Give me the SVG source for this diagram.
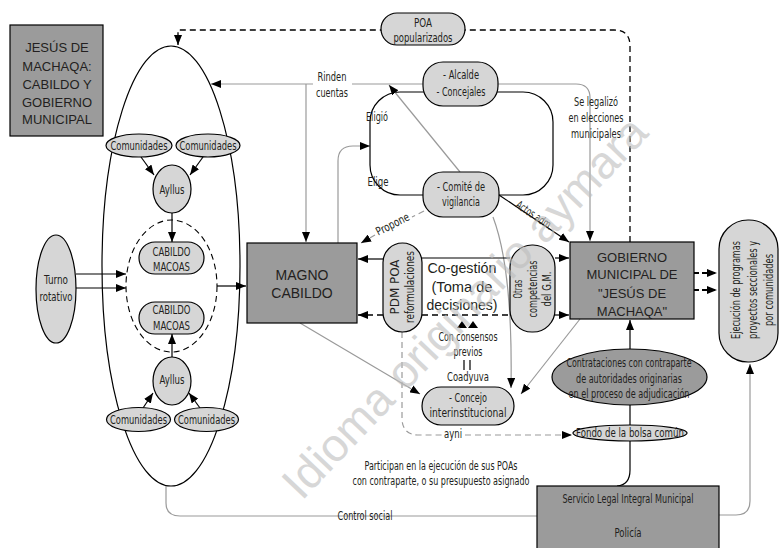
<svg xmlns="http://www.w3.org/2000/svg" width="780" height="548" viewBox="0 0 780 548">
<defs>
<marker id="ah" viewBox="0 0 10 8" refX="10" refY="4" markerWidth="10" markerHeight="8" markerUnits="userSpaceOnUse" orient="auto"><path d="M0,0 L10,4 L0,8 z" fill="#000"/></marker>
<style>
text{fill:#231f20;text-anchor:middle}
.n{font-family:"Liberation Sans Narrow","DejaVu Sans Condensed","Liberation Sans",sans-serif;font-size:11.5px}
.r{font-family:"Liberation Sans","DejaVu Sans",sans-serif}
.pill{fill:#d6d6d6;stroke:#000;stroke-width:1.2}
.box{fill:#9b9b9b;stroke:#000;stroke-width:1.2}
.k{fill:none;stroke:#000;stroke-width:1.2}
.g{fill:none;stroke:#9a9a9a;stroke-width:1.2}
.gd{fill:none;stroke:#9a9a9a;stroke-width:1.2;stroke-dasharray:6 4}
.kd{fill:none;stroke:#000;stroke-width:1.3;stroke-dasharray:6 4}
.kd2{fill:none;stroke:#000;stroke-width:2;stroke-dasharray:5 3}
</style>
</defs>
<rect x="0" y="0" width="780" height="548" fill="#fff"/>

<g id="connectors">
  <path class="kd" d="M630 242 V46 Q630 30 614 30 H178 V45" marker-end="url(#ah)"/>
  <path class="g" d="M352 84 H576 Q590 84 590 98 V241" marker-end="url(#ah)"/>
  <path class="g" d="M313 84 H211" marker-end="url(#ah)"/>
  <path class="g" d="M306 84 V242" marker-end="url(#ah)"/>
  <path class="g" d="M338 243 V161 Q338 146 353 146 H370" marker-end="url(#ah)"/>
  <rect class="k" x="370" y="92" width="183" height="103" rx="30"/>
  <path class="g" d="M460 172 L389 85" marker-end="url(#ah)"/>
  <path class="g" d="M493 217 Q513 270 511 388" marker-end="url(#ah)"/>
  <path class="g" d="M580 319 L521 394" marker-end="url(#ah)"/>
  <path class="g" d="M300 323 L420 394" marker-end="url(#ah)"/>
  <path class="g" d="M166 486 V503 Q166 516 180 516 H537"/>
  <path class="g" d="M719 515 H736 Q750 515 750 501 V364" marker-end="url(#ah)"/>
  <path class="k" d="M630 349 V320" marker-end="url(#ah)"/>
  <path class="k" d="M630 405 V426 M630 440 V470 Q630 485 617 486"/>
  <path class="gd" d="M402 332 V418 Q402 435 419 435 H442"/>
  <path class="gd" d="M465 435 H572" marker-end="url(#ah)"/>
  <path class="k" d="M422 258 H510"/>
  <path class="kd" d="M422 315 H510"/>
  <path class="k" d="M383 259 H358" marker-end="url(#ah)"/>
  <path class="kd" d="M383 315 H358" marker-end="url(#ah)"/>
  <path class="k" d="M555 258 H569" marker-end="url(#ah)"/>
  <path class="k" d="M555 315 H569" marker-end="url(#ah)"/>
  <polygon points="457,328 462,321 467,328" fill="#000"/>
  <polygon points="468,328 473,321 478,328" fill="#000"/>
  <path class="k" d="M464 360 V370 M470 360 V370"/>
  <path class="k" d="M76 274 H126" marker-end="url(#ah)"/>
  <path class="k" d="M76 288 H126" marker-end="url(#ah)"/>
  <path class="k" d="M217 286 H246" marker-end="url(#ah)"/>
  <path class="k" d="M172 213 V242" marker-end="url(#ah)"/>
  <path class="k" d="M172 357 V334" marker-end="url(#ah)"/>
  <path class="k" d="M141 157 L154 175" marker-end="url(#ah)"/>
  <path class="k" d="M203 157 L190 175" marker-end="url(#ah)"/>
  <path class="k" d="M143 408 L153 393" marker-end="url(#ah)"/>
  <path class="k" d="M200 408 L189 393" marker-end="url(#ah)"/>
  <path class="gd" d="M424 211 L412 217"/>
  <path class="gd" d="M375 235 L361 243" marker-end="url(#ah)"/>
  <path class="k" d="M499 195 L569 242" marker-end="url(#ah)"/>
  <path class="kd2" d="M694 273 H717" marker-end="url(#ah)"/>
  <path class="kd2" d="M694 290 H717" marker-end="url(#ah)"/>
  <text class="n" x="332" y="81" textLength="29" lengthAdjust="spacingAndGlyphs">Rinden</text>
  <text class="n" x="332" y="97" textLength="32" lengthAdjust="spacingAndGlyphs">cuentas</text>
  <text class="n" x="377" y="121" font-size="10.5" textLength="22" lengthAdjust="spacingAndGlyphs">Eligió</text>
  <text class="n" x="378" y="186" font-size="10.5" textLength="21" lengthAdjust="spacingAndGlyphs">Elige</text>
  <text class="n" x="596" y="106" textLength="44" lengthAdjust="spacingAndGlyphs">Se legalizó</text>
  <text class="n" x="596" y="122" textLength="55" lengthAdjust="spacingAndGlyphs">en elecciones</text>
  <text class="n" x="596" y="138" textLength="50" lengthAdjust="spacingAndGlyphs">municipales</text>
  <text class="n" x="393" y="228" font-size="10.5" transform="rotate(-27 393 225)" textLength="36" lengthAdjust="spacingAndGlyphs">Propone</text>
  <text class="n" x="534" y="219" font-size="10.5" transform="rotate(34 534 216)" textLength="42" lengthAdjust="spacingAndGlyphs">Actos adm.</text>
  <text class="n" x="468" y="341" font-size="12" textLength="59" lengthAdjust="spacingAndGlyphs">Con consensos</text>
  <text class="n" x="468" y="356" font-size="12" textLength="29" lengthAdjust="spacingAndGlyphs">previos</text>
  <text class="n" x="468" y="381" font-size="12" textLength="42" lengthAdjust="spacingAndGlyphs">Coadyuva</text>
  <text class="n" x="453" y="438" font-size="11" textLength="18" lengthAdjust="spacingAndGlyphs">ayni</text>
  <text class="n" x="441" y="470" font-size="12" textLength="153" lengthAdjust="spacingAndGlyphs">Participan en la ejecución de sus POAs</text>
  <text class="n" x="441" y="485" font-size="12" textLength="177" lengthAdjust="spacingAndGlyphs">con contraparte, o su presupuesto asignado</text>
  <text class="n" x="365" y="520" font-size="12" textLength="55" lengthAdjust="spacingAndGlyphs">Control social</text>
</g>

<g id="title">
  <rect class="box" x="10" y="25" width="93" height="111"/>
  <text class="r" font-size="13" x="57" y="52">JESÚS DE</text>
  <text class="r" font-size="13" x="57" y="71">MACHAQA:</text>
  <text class="r" font-size="13" x="57" y="89">CABILDO Y</text>
  <text class="r" font-size="13" x="57" y="107">GOBIERNO</text>
  <text class="r" font-size="13" x="57" y="124">MUNICIPAL</text>
</g>
<g id="cabildo-comunal"><ellipse class="k" cx="171" cy="266" rx="69" ry="220"/></g>
<g id="comunidades-1"><ellipse class="pill" cx="139" cy="145.5" rx="33" ry="11.5"/><text class="n" x="139" y="149.5" textLength="57" lengthAdjust="spacingAndGlyphs">Comunidades</text></g>
<g id="comunidades-2"><ellipse class="pill" cx="208" cy="145.5" rx="32" ry="11.5"/><text class="n" x="208" y="149.5" textLength="57" lengthAdjust="spacingAndGlyphs">Comunidades</text></g>
<g id="ayllus-1"><ellipse class="pill" cx="172" cy="189" rx="19" ry="24"/><text class="n" x="172" y="194" textLength="25" lengthAdjust="spacingAndGlyphs">Ayllus</text></g>
<g id="macoas-circle"><ellipse fill="none" stroke="#000" stroke-width="1.1" stroke-dasharray="6 4" cx="171.5" cy="286" rx="45.5" ry="66"/></g>
<g id="macoas-1"><rect class="pill" x="139" y="242" width="65" height="32" rx="16"/><text class="n" font-size="12.5" x="171.5" y="256" textLength="38" lengthAdjust="spacingAndGlyphs">CABILDO</text><text class="n" font-size="12.5" x="171.5" y="271" textLength="37" lengthAdjust="spacingAndGlyphs">MACOAS</text></g>
<g id="macoas-2"><rect class="pill" x="139" y="302" width="65" height="32" rx="16"/><text class="n" font-size="12.5" x="171.5" y="314" textLength="38" lengthAdjust="spacingAndGlyphs">CABILDO</text><text class="n" font-size="12.5" x="171.5" y="330" textLength="37" lengthAdjust="spacingAndGlyphs">MACOAS</text></g>
<g id="ayllus-2"><ellipse class="pill" cx="172" cy="381" rx="19" ry="24"/><text class="n" x="172" y="384" textLength="25" lengthAdjust="spacingAndGlyphs">Ayllus</text></g>
<g id="comunidades-3"><ellipse class="pill" cx="138.5" cy="419.5" rx="32" ry="12"/><text class="n" x="138.5" y="423.5" textLength="57" lengthAdjust="spacingAndGlyphs">Comunidades</text></g>
<g id="comunidades-4"><ellipse class="pill" cx="206.5" cy="419.5" rx="32" ry="12"/><text class="n" x="206.5" y="423.5" textLength="57" lengthAdjust="spacingAndGlyphs">Comunidades</text></g>
<g id="turno"><ellipse class="pill" cx="56" cy="289" rx="20" ry="54"/><text class="n" x="56" y="284" textLength="24" lengthAdjust="spacingAndGlyphs">Turno</text><text class="n" x="56" y="301" textLength="33" lengthAdjust="spacingAndGlyphs">rotativo</text></g>
<g id="magno-cabildo"><rect class="box" x="247" y="243" width="110" height="80"/><text class="r" font-size="14" x="302" y="280">MAGNO</text><text class="r" font-size="14" x="302" y="298">CABILDO</text></g>
<g id="poa"><rect class="pill" x="381" y="13" width="84" height="32" rx="16"/><text class="n" font-size="12" x="423" y="27" textLength="18" lengthAdjust="spacingAndGlyphs">POA</text><text class="n" font-size="12" x="423" y="42" textLength="59" lengthAdjust="spacingAndGlyphs">popularizados</text></g>
<g id="alcalde"><rect class="pill" x="423" y="62" width="75" height="44" rx="20"/><text class="n" font-size="12" x="461" y="79" textLength="36" lengthAdjust="spacingAndGlyphs">- Alcalde</text><text class="n" font-size="12" x="461" y="96" textLength="49" lengthAdjust="spacingAndGlyphs">- Concejales</text></g>
<g id="comite"><rect class="pill" x="423" y="172" width="76" height="45" rx="20"/><text class="n" font-size="12" x="461" y="191" textLength="48" lengthAdjust="spacingAndGlyphs">- Comité de</text><text class="n" font-size="12" x="461" y="206" textLength="38" lengthAdjust="spacingAndGlyphs">vigilancia</text></g>
<g id="pdm"><rect class="pill" x="383" y="243" width="39" height="89" rx="19.5"/>
  <text class="n" font-size="11" transform="translate(399 287) rotate(-90)" textLength="55" lengthAdjust="spacingAndGlyphs">PDM  POA</text>
  <text class="n" font-size="11" transform="translate(414 287) rotate(-90)" textLength="72" lengthAdjust="spacingAndGlyphs">reformulaciones</text></g>
<g id="cogestion"><text class="r" font-size="15" x="462" y="273" textLength="69" lengthAdjust="spacingAndGlyphs">Co-gestión</text><text class="r" font-size="15" x="462" y="292" textLength="61" lengthAdjust="spacingAndGlyphs">(Toma de</text><text class="r" font-size="15" x="462" y="310" textLength="71" lengthAdjust="spacingAndGlyphs">decisiones)</text></g>
<g id="otras"><rect class="pill" x="510" y="245" width="45" height="87" rx="22"/>
  <text class="n" font-size="11" transform="translate(521.5 289) rotate(-90)" textLength="19" lengthAdjust="spacingAndGlyphs">Otras</text>
  <text class="n" font-size="11" transform="translate(536.5 289) rotate(-90)" textLength="57" lengthAdjust="spacingAndGlyphs">competencias</text>
  <text class="n" font-size="11" transform="translate(551 289) rotate(-90)" textLength="35" lengthAdjust="spacingAndGlyphs">del G.M.</text></g>
<g id="gobierno"><rect class="box" x="570" y="242" width="124" height="77"/>
  <text class="r" font-size="13" x="632" y="261.5">GOBIERNO</text>
  <text class="r" font-size="13" x="632" y="279">MUNICIPAL DE</text>
  <text class="r" font-size="13" x="632" y="298">"JESÚS DE</text>
  <text class="r" font-size="13" x="632" y="315.5">MACHAQA"</text></g>
<g id="ejecucion"><rect class="pill" x="719" y="220" width="59" height="142" rx="29"/>
  <text class="n" font-size="12" transform="translate(740 290) rotate(-90)" textLength="98" lengthAdjust="spacingAndGlyphs">Ejecución de programas</text>
  <text class="n" font-size="12" transform="translate(757 290) rotate(-90)" textLength="98" lengthAdjust="spacingAndGlyphs">proyectos seccionales y</text>
  <text class="n" font-size="12" transform="translate(773 290) rotate(-90)" textLength="72" lengthAdjust="spacingAndGlyphs">por comunidades</text></g>
<g id="concejo"><rect class="pill" x="422" y="387" width="92" height="38" rx="19"/><text class="n" font-size="12" x="468" y="402" textLength="38" lengthAdjust="spacingAndGlyphs">- Concejo</text><text class="n" font-size="12" x="468" y="417" textLength="77" lengthAdjust="spacingAndGlyphs">interinstitucional</text></g>
<g id="contrataciones"><ellipse class="box" cx="629.5" cy="377" rx="77.5" ry="28"/>
  <text class="n" font-size="12" x="629" y="367" textLength="125" lengthAdjust="spacingAndGlyphs">Contrataciones con contraparte</text>
  <text class="n" font-size="12" x="629" y="383" textLength="106" lengthAdjust="spacingAndGlyphs">de autoridades originarias</text>
  <text class="n" font-size="12" x="629" y="398" textLength="121" lengthAdjust="spacingAndGlyphs">en el proceso de adjudicación</text></g>
<g id="fondo"><ellipse class="pill" cx="630" cy="433" rx="57" ry="8"/><text class="n" font-size="12" x="630" y="437" textLength="108" lengthAdjust="spacingAndGlyphs">Fondo de la bolsa común</text></g>
<g id="servicio"><rect class="box" x="537" y="486" width="182" height="70"/>
  <text class="n" font-size="13" x="628" y="503" textLength="131" lengthAdjust="spacingAndGlyphs">Servicio Legal Integral Municipal</text>
  <text class="n" font-size="13" x="628" y="537" textLength="27" lengthAdjust="spacingAndGlyphs">Policía</text></g>

<g id="watermark"><text class="r" font-size="46" x="476" y="318" opacity="0.6" transform="rotate(-46.5 476 318)" style="fill:#bdbdbd">Idioma originario aymara</text></g>
</svg>
